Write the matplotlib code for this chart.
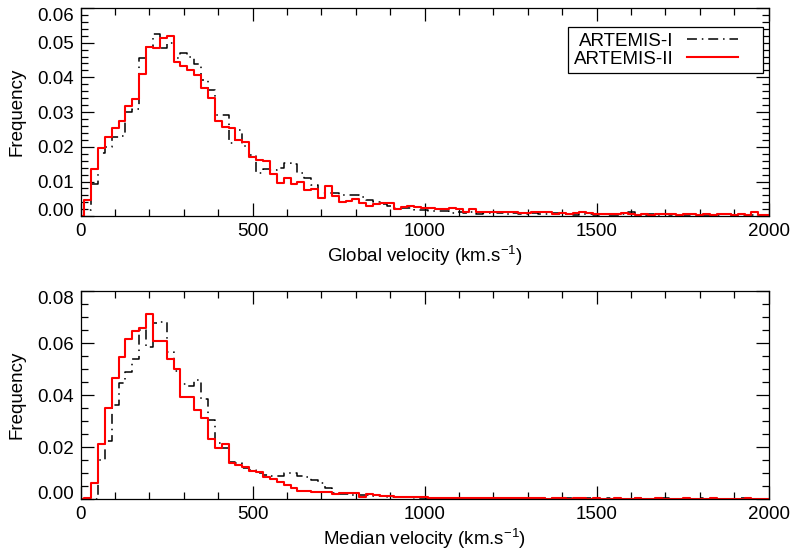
import numpy as np
import matplotlib
matplotlib.use("Agg")
import matplotlib.pyplot as plt
from matplotlib.ticker import MultipleLocator, FixedLocator, FormatStrFormatter

plt.rcParams['font.family'] = ['Liberation Sans', 'DejaVu Sans']
plt.rcParams['mathtext.fontset'] = 'custom'
plt.rcParams['mathtext.rm'] = 'Liberation Sans'

# bin centres (km/s), bin width 20
velocity = np.arange(0, 2020, 20)

global_artemis1 = [
    0.0, 0.0018, 0.0093, 0.0183, 0.0200, 0.0229, 0.0230, 0.0300, 0.0308, 0.0455,
    0.0488, 0.0524, 0.0484, 0.0500, 0.0455, 0.0470, 0.0460, 0.0439, 0.0393, 0.0364,
    0.0292, 0.0292, 0.0212, 0.0247, 0.0203, 0.0177, 0.0126, 0.0135, 0.0133, 0.0138,
    0.0153, 0.0150, 0.0125, 0.0110, 0.0090, 0.0068, 0.0068, 0.0068, 0.0062, 0.0062,
    0.0060, 0.0055, 0.0048, 0.0042, 0.0035, 0.0030, 0.0025, 0.0025, 0.0025, 0.0018,
    0.0018, 0.0016, 0.0014, 0.0016, 0.0010, 0.0012, 0.0010, 0.0012, 0.0008, 0.0010,
    0.0012, 0.0009, 0.0007, 0.0010, 0.0006, 0.0008, 0.0009, 0.0006, 0.0007, 0.0009,
    0.0006, 0.0007, 0.0005, 0.0008, 0.0006, 0.0005, 0.0007, 0.0005, 0.0004, 0.0006,
    0.0013, 0.0005, 0.0004, 0.0006, 0.0005, 0.0007, 0.0004, 0.0005, 0.0004, 0.0006,
    0.0005, 0.0004, 0.0005, 0.0004, 0.0006, 0.0003, 0.0005, 0.0004, 0.0004, 0.0003,
    0.0003]

global_artemis2 = [
    0.0, 0.0047, 0.0136, 0.0198, 0.0229, 0.0255, 0.0275, 0.0318, 0.0337, 0.0410,
    0.0488, 0.0484, 0.0512, 0.0519, 0.0445, 0.0433, 0.0421, 0.0407, 0.0369, 0.0340,
    0.0273, 0.0258, 0.0253, 0.0220, 0.0215, 0.0170, 0.0162, 0.0160, 0.0122, 0.0097,
    0.0109, 0.0092, 0.0100, 0.0076, 0.0078, 0.0052, 0.0087, 0.0058, 0.0040, 0.0045,
    0.0050, 0.0037, 0.0030, 0.0035, 0.0037, 0.0039, 0.0022, 0.0028, 0.0030, 0.0026,
    0.0025, 0.0023, 0.0020, 0.0020, 0.0023, 0.0021, 0.0013, 0.0020, 0.0013, 0.0013,
    0.0013, 0.0011, 0.0011, 0.0011, 0.0010, 0.0009, 0.0011, 0.0011, 0.0011, 0.0008,
    0.0010, 0.0007, 0.0009, 0.0011, 0.0009, 0.0007, 0.0008, 0.0006, 0.0006, 0.0009,
    0.0006, 0.0005, 0.0007, 0.0005, 0.0006, 0.0008, 0.0006, 0.0005, 0.0006, 0.0007,
    0.0005, 0.0006, 0.0005, 0.0007, 0.0006, 0.0005, 0.0006, 0.0005, 0.0011, 0.0005,
    0.0004]

median_artemis1 = [
    0.0, 0.0, 0.0, 0.0151, 0.0222, 0.0362, 0.0446, 0.0487, 0.0538, 0.0650,
    0.0586, 0.0676, 0.0679, 0.0567, 0.0494, 0.0442, 0.0435, 0.0458, 0.0384, 0.0305,
    0.0215, 0.0196, 0.0145, 0.0138, 0.0119, 0.0113, 0.0102, 0.0093, 0.0090, 0.0090,
    0.0100, 0.0102, 0.0090, 0.0085, 0.0075, 0.0062, 0.0045, 0.0025, 0.0019, 0.0019,
    0.0017, 0.0017, 0.0015, 0.0013, 0.0011, 0.0010, 0.0008, 0.0008, 0.0007, 0.0006,
    0.0006, 0.0005, 0.0006, 0.0004, 0.0005, 0.0004, 0.0004, 0.0005, 0.0003, 0.0004,
    0.0003, 0.0004, 0.0003, 0.0003, 0.0004, 0.0002, 0.0003, 0.0003, 0.0002, 0.0003,
    0.0002, 0.0003, 0.0002, 0.0002, 0.0003, 0.0002, 0.0002, 0.0003, 0.0002, 0.0002,
    0.0002, 0.0003, 0.0002, 0.0002, 0.0002, 0.0003, 0.0002, 0.0002, 0.0002, 0.0002,
    0.0003, 0.0002, 0.0002, 0.0002, 0.0002, 0.0002, 0.0003, 0.0002, 0.0002, 0.0002,
    0.0002]

median_artemis2 = [
    0.0, 0.0004, 0.0061, 0.0213, 0.0352, 0.0465, 0.0548, 0.0616, 0.0648, 0.0657,
    0.0711, 0.0608, 0.0606, 0.0538, 0.0499, 0.0394, 0.0392, 0.0343, 0.0311, 0.0230,
    0.0198, 0.0211, 0.0141, 0.0132, 0.0123, 0.0110, 0.0106, 0.0087, 0.0077, 0.0068,
    0.0055, 0.0042, 0.0033, 0.0033, 0.0027, 0.0027, 0.0027, 0.0019, 0.0026, 0.0026,
    0.0025, 0.0010, 0.0019, 0.0017, 0.0014, 0.0014, 0.0010, 0.0010, 0.0010, 0.0008,
    0.0010, 0.0006, 0.0006, 0.0005, 0.0005, 0.0004, 0.0005, 0.0004, 0.0004, 0.0003,
    0.0004, 0.0003, 0.0004, 0.0003, 0.0003, 0.0004, 0.0003, 0.0003, 0.0002, 0.0003,
    0.0003, 0.0002, 0.0003, 0.0003, 0.0002, 0.0003, 0.0002, 0.0002, 0.0003, 0.0002,
    0.0002, 0.0003, 0.0002, 0.0002, 0.0003, 0.0002, 0.0002, 0.0002, 0.0003, 0.0002,
    0.0002, 0.0002, 0.0003, 0.0002, 0.0002, 0.0002, 0.0002, 0.0003, 0.0002, 0.0002,
    0.0002]

labels = ['ARTEMIS-I', 'ARTEMIS-II']
xlabels = ['Global velocity (km.s$^{-1}$)', 'Median velocity (km.s$^{-1}$)']

FS = 13.5


def style_axis(ax, ymax, ymajor, yminor, xlabel):
    ax.set_xlim(0, 2000)
    ax.set_ylim(0, ymax)
    ax.xaxis.set_major_locator(MultipleLocator(500))
    ax.xaxis.set_minor_locator(MultipleLocator(100))
    nmaj = int(round(ymax / ymajor))
    ax.yaxis.set_major_locator(FixedLocator([i * ymajor for i in range(nmaj + 1)]))
    ax.yaxis.set_minor_locator(MultipleLocator(yminor))
    ax.yaxis.set_major_formatter(FormatStrFormatter('%.2f'))
    ax.tick_params(which='both', direction='in', top=True, right=True,
                   labelsize=FS, width=0.9)
    ax.tick_params(which='major', length=9.5)
    ax.tick_params(which='minor', length=5)
    ax.tick_params(axis='y', pad=5)
    ax.tick_params(axis='x', pad=5)
    for sp in ax.spines.values():
        sp.set_linewidth(0.9)
    ax.set_xlabel(xlabel, fontsize=FS, labelpad=2)
    ax.set_ylabel('Frequency', fontsize=FS, labelpad=8)

    # end labels are pulled inside the axis range, like IDL does
    ticks = ax.yaxis.get_major_ticks(nmaj + 1)
    ticks[0].label1.set_va('baseline')
    ticks[-1].label1.set_va('top')


fig = plt.figure(figsize=(7.94, 5.55), dpi=100)
ax1 = fig.add_axes([0.1016, 0.6103, 0.8665, 0.3755])
ax2 = fig.add_axes([0.1016, 0.1004, 0.8665, 0.3753])

for ax, s1, s2 in [(ax1, global_artemis1, global_artemis2),
                   (ax2, median_artemis1, median_artemis2)]:
    ax.step(velocity, s1, where='mid', color='black', lw=1.1,
            dashes=(6.5, 3.2, 1.0, 3.2), label=labels[0])
    ax.step(velocity, s2, where='mid', color='red', lw=1.5, label=labels[1])

style_axis(ax1, 0.06, 0.01, 0.002, xlabels[0])
style_axis(ax2, 0.08, 0.02, 0.005, xlabels[1])

leg = ax1.legend(loc='upper right', bbox_to_anchor=(0.9922, 0.907),
                 borderaxespad=0, markerfirst=False, fancybox=False,
                 fontsize=FS, handlelength=3.79, handletextpad=0.7,
                 labelspacing=0.02, borderpad=0.3, framealpha=1)
leg.get_frame().set_edgecolor('black')
leg.get_frame().set_linewidth(0.9)
# sample lines are shorter than the handle box (extra room on the right)
for ln in leg.get_lines():
    xd = np.asarray(ln.get_xdata(), dtype=float)
    yd = np.asarray(ln.get_ydata(), dtype=float)
    x0, x1 = xd.min(), xd.max()
    ln.set_data([x0, x0 + 0.73 * (x1 - x0)], [yd[0], yd[0]])

fig.savefig('out.png', dpi=100)
